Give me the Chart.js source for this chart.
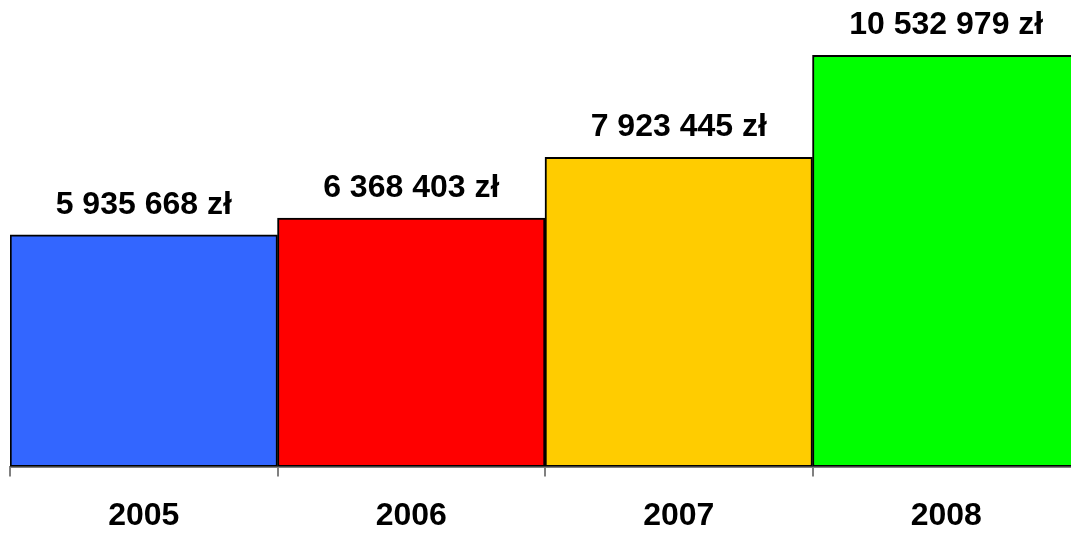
<!DOCTYPE html>
<html>
<head>
<meta charset="utf-8">
<script src="https://cdn.jsdelivr.net/npm/chart.js@4"></script>
<style>
  html, body { margin: 0; padding: 0; background: #fff; overflow: hidden; }
  #wrap { width: 1071px; height: 533px; overflow: hidden; }
  #box { width: 1090px; height: 555px; position: relative; }
</style>
</head>
<body>
<div id="wrap"><div id="box"><canvas id="chart"></canvas></div></div>
<script>
const years = ['2005', '2006', '2007', '2008'];
const amounts = [5935668, 6368403, 7923445, 10532979];
const barColors = ['#3366ff', '#ff0000', '#ffcc00', '#00ff00'];

const formatZl = v => String(v).replace(/\B(?=(\d{3})+(?!\d))/g, ' ') + ' zł';

// napisy z kwotami nad słupkami
const valueLabels = {
  id: 'valueLabels',
  afterDatasetsDraw(chart) {
    const ctx = chart.ctx;
    const meta = chart.getDatasetMeta(0);
    ctx.save();
    ctx.font = 'bold 32px "Liberation Sans", Arial, sans-serif';
    ctx.fillStyle = '#000';
    ctx.textAlign = 'center';
    ctx.textBaseline = 'alphabetic';
    meta.data.forEach((bar, i) => {
      ctx.fillText(formatZl(amounts[i]), bar.x, bar.y - 21);
    });
    ctx.restore();
  }
};

new Chart(document.getElementById('chart'), {
  type: 'bar',
  data: {
    labels: years,
    datasets: [{
      data: amounts,
      backgroundColor: barColors,
      borderColor: '#000',
      borderWidth: 2,
      borderSkipped: false,
      categoryPercentage: 1,
      barPercentage: 1
    }]
  },
  options: {
    responsive: true,
    maintainAspectRatio: false,
    animation: false,
    layout: { padding: { left: 10, right: 10, top: 2, bottom: 0 } },
    plugins: {
      legend: { display: false },
      tooltip: { enabled: false }
    },
    scales: {
      y: {
        display: false,
        min: 0,
        max: 11900000
      },
      x: {
        offset: true,
        grid: {
          offset: true,
          drawOnChartArea: false,
          drawTicks: true,
          tickLength: 10,
          color: '#808080',
          lineWidth: 2
        },
        border: { display: true, color: '#808080', width: 2 },
        ticks: {
          color: '#000',
          padding: 20,
          font: { family: '"Liberation Sans", Arial, sans-serif', size: 32, weight: 'bold' }
        }
      }
    }
  },
  plugins: [valueLabels]
});
</script>
</body>
</html>
